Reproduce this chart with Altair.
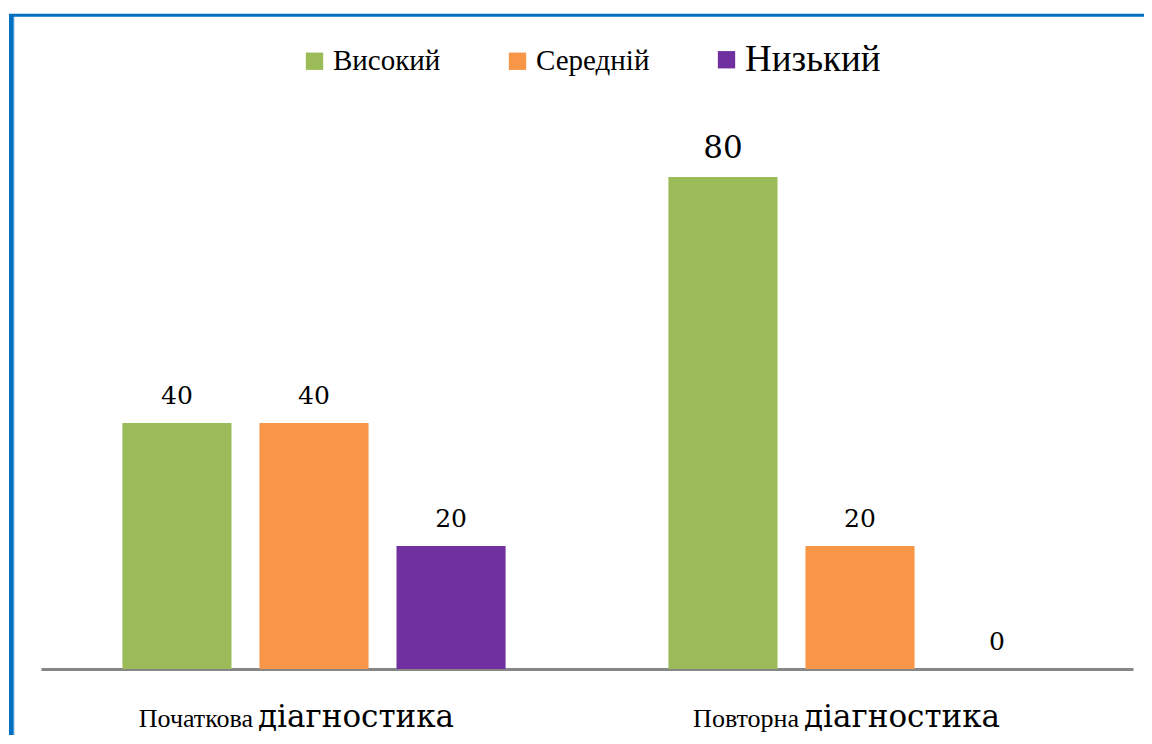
import altair as alt
import pandas as pd

groups = ["Початкова діагностика", "Повторна діагностика"]
series = ["Високий", "Середній", "Низький"]
values_initial = [40, 40, 20]
values_repeat = [80, 20, 0]
colors = ["#9BBB59", "#F79646", "#7030A0"]

rows = []
for s, v in zip(series, values_initial):
    rows.append({"group": groups[0], "series": s, "value": v})
for s, v in zip(series, values_repeat):
    rows.append({"group": groups[1], "series": s, "value": v})
df = pd.DataFrame(rows)

labels_df = pd.DataFrame({
    "group": groups,
    "word1": [g.split(" ")[0] for g in groups],
    "word2": [g.split(" ")[1] for g in groups],
})

FONT = "Liberation Serif"
FONT2 = "DejaVu Serif"

x_enc = alt.X("group:N", sort=groups,
              scale=alt.Scale(paddingInner=0, paddingOuter=0),
              axis=alt.Axis(labels=False, ticks=False, title=None,
                            domainColor="#868686", domainWidth=3, grid=False))
xo_enc = alt.XOffset("series:N", sort=series,
                     scale=alt.Scale(paddingInner=0.204, paddingOuter=0.594))
y_enc = alt.Y("value:Q", scale=alt.Scale(domain=[0, 100]), axis=None)

base = alt.Chart(df)

bars = base.mark_bar().encode(
    x=x_enc,
    xOffset=xo_enc,
    y=y_enc,
    color=alt.Color(
        "series:N", sort=series,
        scale=alt.Scale(domain=series, range=colors),
        legend=alt.Legend(
            title=None, orient="none", direction="horizontal",
            legendX=259, legendY=-9,
            symbolType="square", symbolSize=300, symbolStrokeWidth=0,
            labelFont=FONT,
            labelFontSize=alt.ExprRef("datum.label == 'Низький' ? 37 : 29"),
            labelColor="#000000", labelOffset=4, columnPadding=62,
            labelLimit=300,
        ),
    ),
)

value_text = base.mark_text(
    font=FONT2, baseline="alphabetic", align="center", dy=-19, color="#000000"
).encode(
    x=x_enc,
    xOffset=xo_enc,
    y=y_enc,
    text=alt.Text("value:Q"),
    size=alt.condition(alt.datum.value >= 80, alt.value(31), alt.value(25)),
)

lab_base = alt.Chart(labels_df)
word1 = lab_base.mark_text(
    font=FONT, fontSize=26, align="right", baseline="alphabetic", dx=-61, color="#000000"
).encode(x=alt.X("group:N", sort=groups), y=alt.value(673), text="word1:N")
word2 = lab_base.mark_text(
    font=FONT2, fontSize=31, align="left", baseline="alphabetic", dx=-56, color="#000000"
).encode(x=alt.X("group:N", sort=groups), y=alt.value(673), text="word2:N")

one = alt.Chart(pd.DataFrame({"a": [0]}))
frame_top = one.mark_rule(color="#0070C0", strokeWidth=3).encode(
    x=alt.value(-32), x2=alt.value(1120), y=alt.value(-38.7))
frame_left = one.mark_rule(color="#0070C0", strokeWidth=5).encode(
    x=alt.value(-29.5), y=alt.value(-40), y2=alt.value(690))
frame_left_inner = one.mark_rule(color="#9DC3E6", strokeWidth=1).encode(
    x=alt.value(-27), y=alt.value(-37), y2=alt.value(690))

chart = alt.layer(
    bars, value_text, word1, word2, frame_top, frame_left, frame_left_inner
).properties(
    width=1092, height=615,
    autosize=alt.AutoSizeParams(type="none"),
    padding={"left": 33, "top": 46, "right": 11, "bottom": 66},
).configure(font=FONT).configure_view(stroke="transparent", strokeWidth=0)

chart.save("out.html", embed_options={"renderer": "svg", "actions": False})
